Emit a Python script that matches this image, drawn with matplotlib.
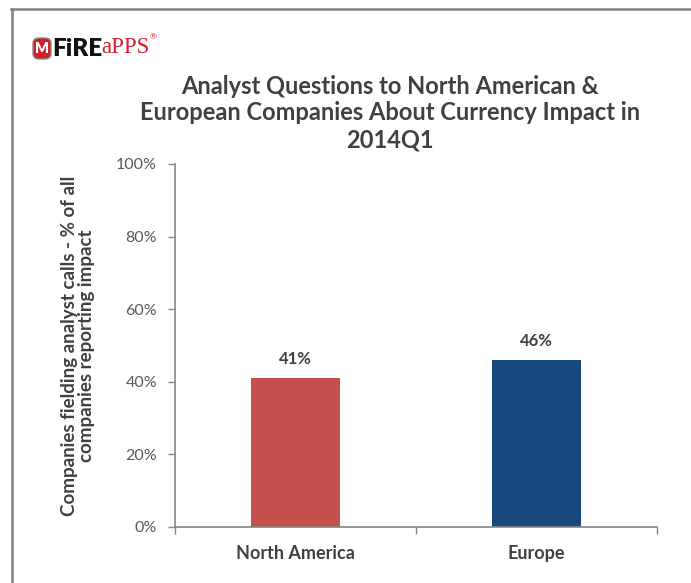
import numpy as np
import matplotlib
matplotlib.use("Agg")
import matplotlib.pyplot as plt
from matplotlib.lines import Line2D
from matplotlib.patches import FancyBboxPatch

plt.rcParams['font.family'] = ['Lato', 'DejaVu Sans']

# data
regions = ['North America', 'Europe']
shares = [0.41, 0.46]
yticks = [0, 0.2, 0.4, 0.6, 0.8, 1.0]

title = 'Analyst Questions to North American &\nEuropean Companies About Currency Impact in\n2014Q1'
ylabel = 'Companies fielding analyst calls - % of all\ncompanies reporting impact'

text_col = '#404040'
axis_col = '#868686'

fig = plt.figure(figsize=(6.91, 5.83), dpi=100)
ax = fig.add_axes([0.2533, 0.0961, 0.6975, 0.6226])

x = np.arange(len(regions))
ax.bar(x, shares, width=0.37, color=['#c4504d', '#17497c'])
for xi, v in zip(x, shares):
    ax.text(xi, v + 0.03, '{:.0f}%'.format(v * 100), ha='center', va='bottom',
            fontsize=12, fontweight='bold', color=text_col)

ax.set_xlim(-0.5, len(regions) - 0.5)
ax.set_ylim(0, 1)
ax.set_yticks(yticks)
ax.set_yticklabels(['{:.0f}%'.format(t * 100) for t in yticks], fontsize=11.5, color='#595959')
ax.set_xticks(x)
ax.set_xticklabels(regions, fontsize=13, fontweight='bold', color=text_col)
ax.tick_params(axis='x', length=0, pad=13)
ax.set_xticks(np.arange(len(regions) + 1) - 0.5, minor=True)
ax.tick_params(axis='x', which='minor', length=5, color=axis_col, width=1)
ax.tick_params(axis='y', length=5, color=axis_col, width=1, pad=8)

for s in ['top', 'right']:
    ax.spines[s].set_visible(False)
for s in ['left', 'bottom']:
    ax.spines[s].set_color(axis_col)
    ax.spines[s].set_linewidth(1.2)

ax.set_ylabel(ylabel, fontsize=13.5, fontweight='bold', color=text_col, labelpad=15, linespacing=1.05)

fig.text(0.565, 1 - 113 / 583, title, ha='center', va='center', fontsize=17, fontweight='bold',
         color=text_col, linespacing=1.2)

# logo
fig.add_artist(FancyBboxPatch((33 / 691, 1 - 59 / 583), 18 / 691, 21 / 583,
                              boxstyle='round,pad=0,rounding_size=0.009',
                              transform=fig.transFigure, facecolor='#d0202e', edgecolor='#8a8a8a', lw=1))
fig.text(42 / 691, 1 - 48.5 / 583, 'M', ha='center', va='center', fontsize=10.5, fontweight='heavy', color='white')
fig.text(52 / 691, 1 - 48.5 / 583, 'FiRE', ha='left', va='center', fontsize=17.5, fontweight='heavy', color='#111111')
fig.text(101 / 691, 1 - 47.5 / 583, 'aPPS', ha='left', va='center', fontsize=16.5, family='Liberation Serif', color='#d0202e')
fig.text(150 / 691, 1 - 37 / 583, '®', ha='left', va='center', fontsize=6, color='#d0202e')

# border
fig.add_artist(Line2D([12 / 691, 12 / 691], [0, 1 - 9 / 583], transform=fig.transFigure, color='#7f7f7f', lw=1.8))
fig.add_artist(Line2D([11 / 691, 1], [1 - 9 / 583, 1 - 9 / 583], transform=fig.transFigure, color='#7f7f7f', lw=1.8))

fig.savefig('out.png', dpi=100)
